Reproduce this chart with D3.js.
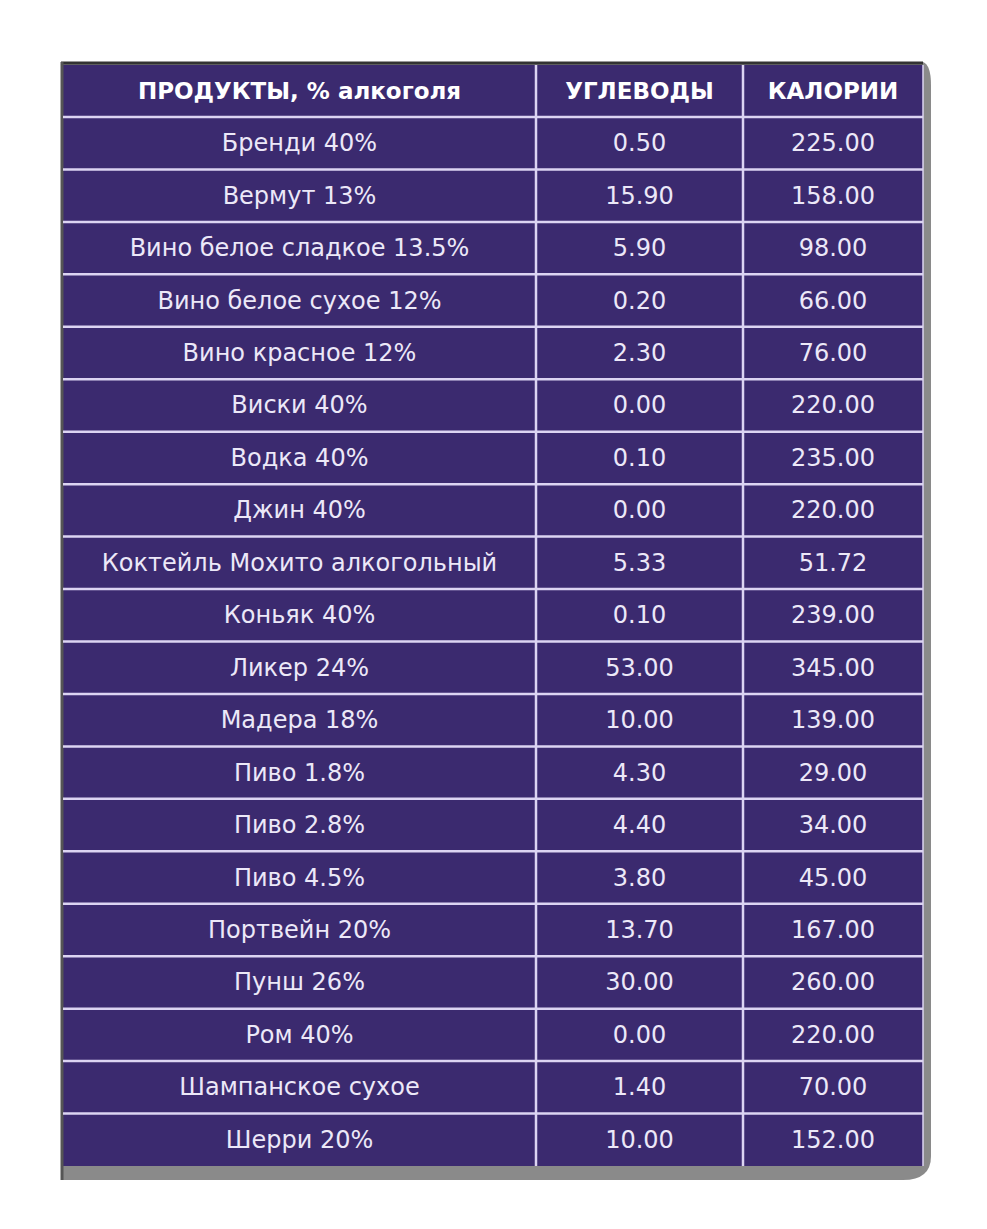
<!DOCTYPE html>
<html><head><meta charset="utf-8">
<script src="https://cdn.jsdelivr.net/npm/d3@7"></script>
<style>body{margin:0;background:#fff}</style></head>
<body><svg id="c" width="987" height="1229"></svg>
<script>
const headers = ["ПРОДУКТЫ, % алкоголя", "УГЛЕВОДЫ", "КАЛОРИИ"];
const products = ["Бренди 40%","Вермут 13%","Вино белое сладкое 13.5%","Вино белое сухое 12%","Вино красное 12%","Виски 40%","Водка 40%","Джин 40%","Коктейль Мохито алкогольный","Коньяк 40%","Ликер 24%","Мадера 18%","Пиво 1.8%","Пиво 2.8%","Пиво 4.5%","Портвейн 20%","Пунш 26%","Ром 40%","Шампанское сухое","Шерри 20%"];
const carbs = [0.50,15.90,5.90,0.20,2.30,0.00,0.10,0.00,5.33,0.10,53.00,10.00,4.30,4.40,3.80,13.70,30.00,0.00,1.40,10.00];
const calories = [225.00,158.00,98.00,66.00,76.00,220.00,235.00,220.00,51.72,239.00,345.00,139.00,29.00,34.00,45.00,167.00,260.00,220.00,70.00,152.00];

(function(){
const svg = d3.select("#c");
const left=63, right=923, tTop=65, headerH=52, bottom=1166;
const colEdges=[left,536,743,right];
const y = d3.scaleBand().domain(d3.range(products.length)).range([tTop+headerH, bottom]);

svg.append("path").attr("d",`M${left-2},${tTop-3} L${right},${tTop-3} Q${right+8},${tTop} ${right+8},${tTop+20} L${right+8},${bottom-10} Q${right+8},${bottom+14} ${right-20},${bottom+14} L${left},${bottom+14} Z`).attr("fill","#8a8a8a");
svg.append("rect").attr("x",left).attr("y",tTop).attr("width",right-left).attr("height",bottom-tTop).attr("fill","#3b2a6f");
svg.append("line").attr("x1",left-2).attr("x2",right).attr("y1",tTop-2).attr("y2",tTop-2).attr("stroke","#333").attr("stroke-width",3);
svg.append("line").attr("x1",left-1).attr("x2",left-1).attr("y1",tTop-3).attr("y2",bottom+14).attr("stroke","#555").attr("stroke-width",3);

const lc="#dcd4f2";
[tTop+headerH,...d3.range(1,products.length).map(i=>y(i))].forEach(v=>{
  svg.append("line").attr("x1",left).attr("x2",right).attr("y1",v).attr("y2",v).attr("stroke",lc).attr("stroke-width",2.5);
});
[colEdges[1],colEdges[2]].forEach(v=>svg.append("line").attr("x1",v).attr("x2",v).attr("y1",tTop).attr("y2",bottom).attr("stroke",lc).attr("stroke-width",2.5));
svg.append("line").attr("x1",right).attr("x2",right).attr("y1",tTop).attr("y2",bottom).attr("stroke",lc).attr("stroke-width",1.5);

const cx=i=>(colEdges[i]+colEdges[i+1])/2;
headers.forEach((h,i)=>svg.append("text").attr("x",cx(i)).attr("y",tTop+headerH/2+1).attr("text-anchor","middle").attr("dominant-baseline","middle")
  .attr("font-family","DejaVu Sans").attr("font-weight","bold").attr("font-size",23).attr("fill","#fff").text(h));

const rows = svg.selectAll("g.r").data(products.map((p,i)=>[p,carbs[i].toFixed(2),calories[i].toFixed(2)])).join("g")
  .attr("transform",(d,i)=>`translate(0,${y(i)+y.bandwidth()/2+1})`);
rows.selectAll("text").data(d=>d).join("text").attr("x",(d,i)=>cx(i)).attr("text-anchor","middle").attr("dominant-baseline","middle")
  .attr("font-family","DejaVu Sans").attr("font-size",24).attr("fill","#ece8f8").text(d=>d);
})();
</script></body></html>
